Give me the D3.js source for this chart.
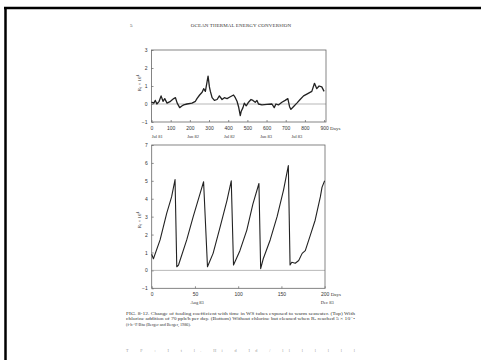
<!DOCTYPE html>
<meta charset="utf-8">
<head>
<style>
  body { margin: 0; background: #fff; }
  svg { display: block; font-family: "Liberation Serif", "DejaVu Serif", serif; }
  .axis text { font-size: 5px; fill: #333; }
  .axis line { stroke: #444; stroke-width: 0.6; }
  .axis path { display: none; }
</style>
</head>
<body>
<div class="chart"></div>
<script src="https://d3js.org/d3.v7.min.js" charset="utf-8"></script>
<script>
// top panel: fouling with chlorination (days, Rf x 10^4)
const topDays = [0, 12, 20, 28, 40, 50, 60, 69, 81, 99, 116, 125, 134, 147, 160, 168, 185, 211, 229, 237, 251, 264, 272, 281, 290, 295, 302, 307, 316, 328, 342, 354, 368, 380, 394, 411, 428, 437, 446, 454, 463, 468, 477, 484, 494, 506, 519, 529, 541, 550, 558, 576, 602, 628, 640, 649, 662, 680, 697, 711, 720, 727, 740, 758, 775, 793, 810, 836, 850, 862, 874, 888, 900];
const topRf = [0.1, 0.05, 0.2, 0, 0.15, 0.45, 0.15, 0.3, 0.05, 0.15, 0.3, 0.35, 0.05, -0.2, -0.1, -0.05, 0, 0.05, 0.15, 0.3, 0.5, 0.65, 0.85, 0.7, 1.25, 1.55, 0.95, 0.7, 0.35, 0.2, 0.25, 0.45, 0.25, 0.35, 0.3, 0.4, 0.5, 0.35, 0.15, -0.15, -0.65, -0.4, -0.2, 0.05, -0.1, 0.1, 0.25, 0.2, 0.1, 0.2, 0, -0.05, -0.02, 0, -0.2, 0, -0.05, 0.1, 0.2, 0.3, -0.15, -0.3, -0.15, 0.05, 0.25, 0.45, 0.55, 0.7, 1.15, 0.85, 1.0, 0.95, 0.7];
const topXTicks = [0, 100, 200, 300, 400, 500, 600, 700, 800, 900];
const topYTicks = [-1, 0, 1, 2, 3];
const topDates = ['Jul 81', 'Jan 82', 'Jul 82', 'Jan 83', 'Jul 83'];
const topDateDays = [30, 217, 406, 598, 758];

// bottom panel: no chlorine, cleaned at Rf = 5e-4
const botDays = [0, 2, 9.7, 17.4, 23, 27, 29, 31, 40.5, 48, 56, 60, 64.5, 71, 79, 87, 92, 94.6, 102, 110, 117, 124, 126, 129, 137, 145, 152.5, 158, 160, 162, 166, 170, 174, 177.6, 183, 189, 195, 197, 200];
const botRf = [0.9, 0.65, 1.7, 3.2, 4.1, 5.07, 0.2, 0.3, 1.7, 3.0, 4.3, 4.95, 0.2, 0.95, 2.4, 3.9, 5.0, 0.3, 1.1, 2.25, 3.7, 4.85, 0.1, 0.65, 1.7, 3.0, 4.5, 5.85, 0.3, 0.45, 0.4, 0.55, 0.95, 1.1, 1.9, 2.8, 4.1, 4.65, 5.0];
const botXTicks = [0, 50, 100, 150, 200];
const botYTicks = [-1, 0, 1, 2, 3, 4, 5, 6, 7];
const botDates = ['Aug 83', 'Dec 83'];
const botDateDays = [52.5, 203];

const captionLines = [
  'FIG. 8-12.   Change of fouling coefficient with time in WS tubes exposed to warm seawater. (Top) With',
  'chlorine addition of 70 ppb/h per day. (Bottom) Without chlorine but cleaned when R\u2091 reached 5 \u00d7 10\u207b\u2074',
  '(f\u00b7h\u00b7\u00b0F/Btu (Berger and Berger, 1986).'
];

const svg = d3.select('.chart')
  .append('svg')
  .attr('width', 481)
  .attr('height', 360);

svg.append('rect').attr('width', 481).attr('height', 360).attr('fill', '#fff');

// scanned page border
svg.append('line').attr('x1', 4).attr('x2', 481).attr('y1', 8).attr('y2', 8)
  .attr('stroke', '#000').attr('stroke-width', 2.5);
svg.append('line').attr('x1', 5.5).attr('x2', 5.5).attr('y1', 7).attr('y2', 360)
  .attr('stroke', '#000').attr('stroke-width', 2.5);

// running head
svg.append('text').attr('x', 130).attr('y', 27).attr('font-size', 5).attr('fill', '#444').text('5');
svg.append('text').attr('x', 241).attr('y', 27).attr('font-size', 5).attr('fill', '#333')
  .attr('text-anchor', 'middle').attr('letter-spacing', 0.1).text('OCEAN THERMAL ENERGY CONVERSION');

function panel(cfg) {
  const x = d3.scaleLinear().domain(cfg.xDomain).range([cfg.left, cfg.right]);
  const y = d3.scaleLinear().domain(cfg.yDomain).range([cfg.bottom, cfg.top]);
  const g = svg.append('g');

  g.append('g')
    .attr('class', 'axis')
    .attr('transform', `translate(0, ${cfg.bottom})`)
    .call(d3.axisBottom(x).tickValues(cfg.xTicks).tickSize(-2).tickPadding(4).tickFormat(d3.format('d')));

  g.append('g')
    .attr('class', 'axis')
    .attr('transform', `translate(${cfg.left}, 0)`)
    .call(d3.axisLeft(y).tickValues(cfg.yTicks).tickSize(-2).tickPadding(4).tickFormat(d3.format('d')));

  // zero reference line
  g.append('line')
    .attr('x1', cfg.left).attr('x2', cfg.right)
    .attr('y1', y(0)).attr('y2', y(0))
    .attr('stroke', '#999').attr('stroke-width', 0.7);

  g.append('rect')
    .attr('x', cfg.left).attr('y', cfg.top)
    .attr('width', cfg.right - cfg.left).attr('height', cfg.bottom - cfg.top)
    .attr('fill', 'none').attr('stroke', '#666').attr('stroke-width', 0.8);

  const pts = cfg.days.map((d, i) => [d, cfg.values[i]]);
  g.append('path')
    .datum(pts)
    .attr('fill', 'none')
    .attr('stroke', '#222')
    .attr('stroke-width', cfg.lineWidth)
    .attr('stroke-linejoin', 'round')
    .attr('d', d3.line().x(d => x(d[0])).y(d => y(d[1])));

  g.append('text')
    .attr('x', x(cfg.xTicks[cfg.xTicks.length - 1]) + 6)
    .attr('y', cfg.bottom + 7.5)
    .attr('font-size', 5).attr('fill', '#333')
    .text('Days');

  g.selectAll('.date').data(cfg.dates)
    .enter()
    .append('text')
    .attr('x', (d, i) => x(cfg.dateDays[i]))
    .attr('y', cfg.bottom + 16)
    .attr('text-anchor', 'middle')
    .attr('font-size', 4.5).attr('fill', '#333')
    .text(d => d);

  const lab = g.append('text')
    .attr('transform', `translate(${cfg.left - 11}, ${cfg.labelY}) rotate(-90)`)
    .attr('text-anchor', 'middle')
    .attr('font-size', 5).attr('fill', '#333');
  lab.append('tspan').text('R');
  lab.append('tspan').attr('font-size', 3.5).attr('dy', 1.2).text('f');
  lab.append('tspan').attr('dy', -1.2).text(' \u00d7 10');
  lab.append('tspan').attr('font-size', 3.5).attr('dy', -2).text('4');
}

panel({
  left: 151.5, right: 326, top: 50, bottom: 122,
  xDomain: [0, 910], yDomain: [-1, 3],
  xTicks: topXTicks, yTicks: topYTicks,
  days: topDays, values: topRf,
  dates: topDates, dateDays: topDateDays,
  labelY: 83, lineWidth: 1.3
});

panel({
  left: 151.7, right: 325, top: 145, bottom: 288.3,
  xDomain: [0, 200.4], yDomain: [-1, 7],
  xTicks: botXTicks, yTicks: botYTicks,
  days: botDays, values: botRf,
  dates: botDates, dateDays: botDateDays,
  labelY: 220, lineWidth: 1.1
});

// caption
svg.selectAll('.caption').data(captionLines)
  .enter()
  .append('text')
  .attr('x', 126)
  .attr('y', (d, i) => 314.5 + i * 5.5)
  .attr('font-size', 4.2)
  .attr('fill', '#333')
  .attr('textLength', (d, i) => i < 2 ? 229 : null)
  .attr('lengthAdjust', 'spacingAndGlyphs')
  .text(d => d);

// cut-off line at page bottom
svg.append('text')
  .attr('x', 126).attr('y', 352)
  .attr('font-size', 4.2).attr('fill', '#999')
  .attr('textLength', 229).attr('lengthAdjust', 'spacing')
  .text('T  F      :      I          t  l. Hi   d   Id  /          ll  l  l       l  l  l');
</script>
</body>
